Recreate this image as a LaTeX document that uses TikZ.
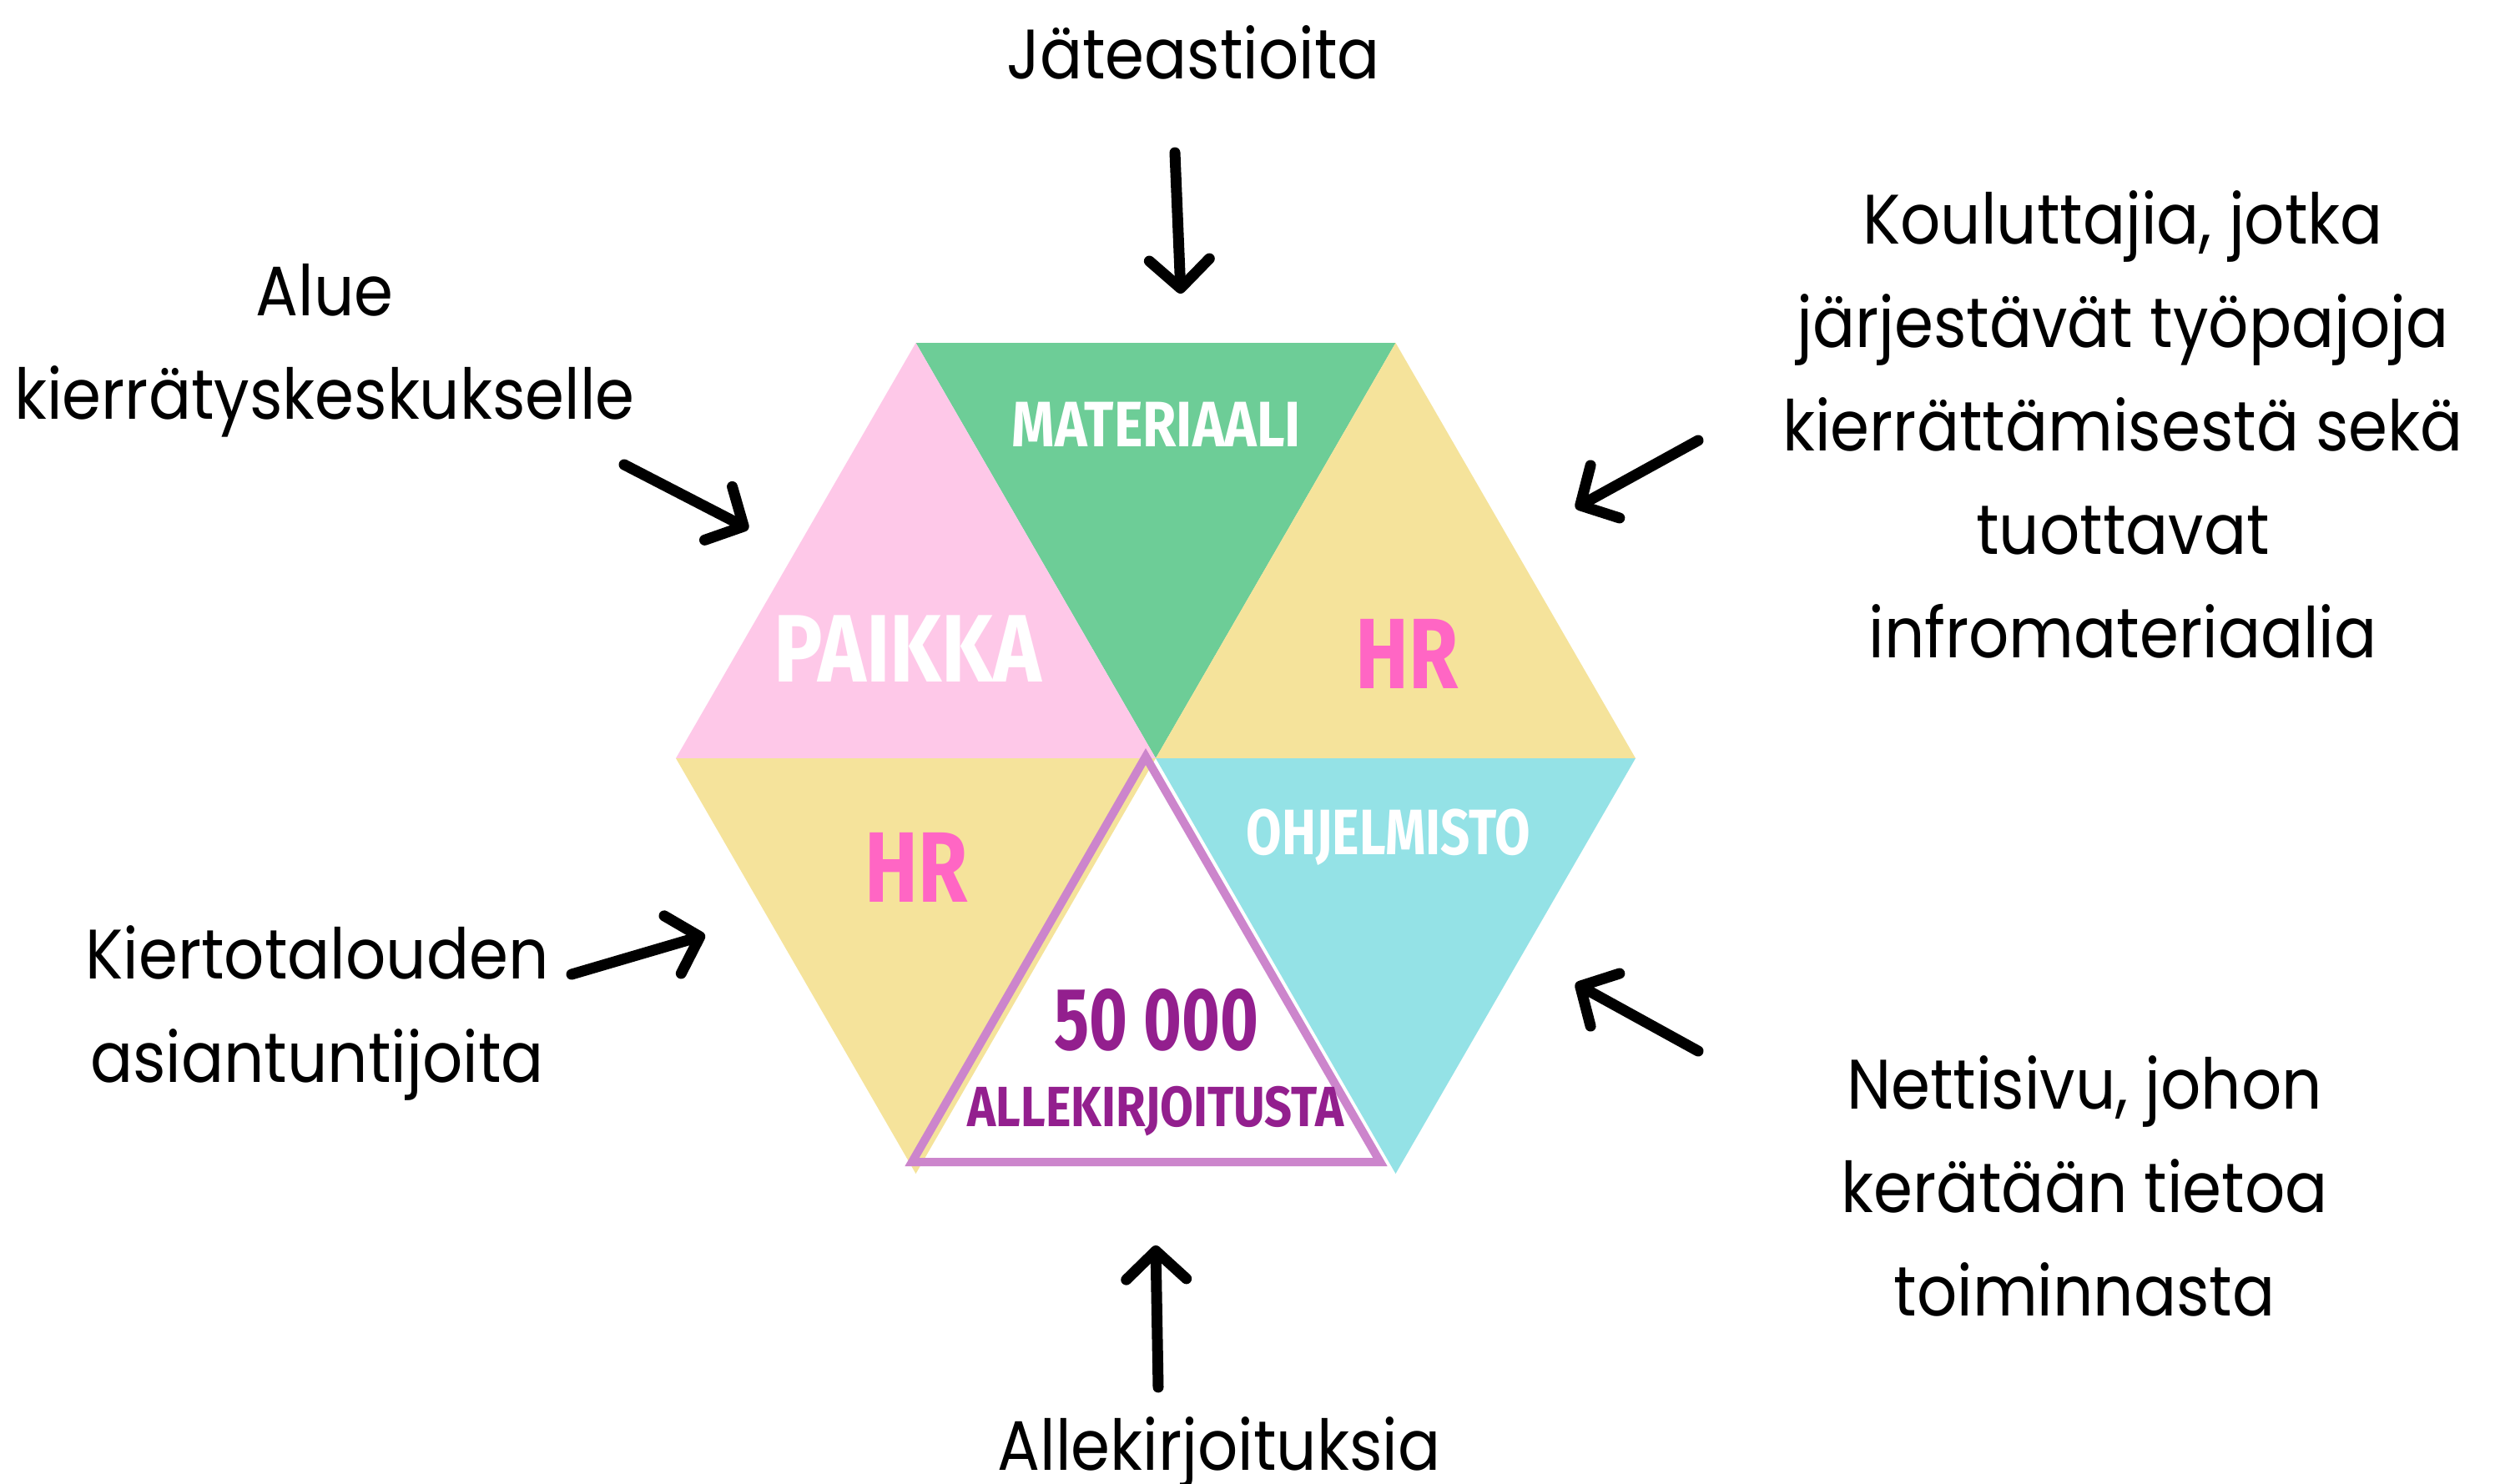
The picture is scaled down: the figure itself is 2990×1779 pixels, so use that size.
\documentclass[tikz,border=0pt]{standalone}
\usepackage{fontspec}
\setmainfont{Poppins}[FakeStretch=0.9]
\newfontfamily\dispA{Fira Sans}[FakeStretch=0.85]
\newfontfamily\dispB{Fira Sans}[FakeStretch=0.8]
\newfontfamily\dispC{Fira Sans}[FakeStretch=0.74]
\usetikzlibrary{arrows.meta}
\definecolor{cgreen}{HTML}{6DCD97}
\definecolor{cpink}{HTML}{FEC8E8}
\definecolor{cyellow}{HTML}{F5E39B}
\definecolor{ccyan}{HTML}{94E2E6}
\definecolor{hrpink}{HTML}{FF66C4}
\definecolor{ptext}{HTML}{931F8E}
\definecolor{pline}{HTML}{CC85CC}
\begin{document}
\begin{tikzpicture}[x=1pt,y=-1pt,
  lbl/.style={font=\fontsize{84}{124}\selectfont, align=center, inner sep=0pt, anchor=base},
  tri/.style={inner sep=0pt},
  arr/.style={line width=13pt, line cap=round, line join=round,
    -{Straight Barb[length=34pt,width=72pt,round]}}]
\useasboundingbox (0,0) rectangle (2990,1779);
\fill[white] (0,0) rectangle (2990,1779);
% hexagon vertices
\coordinate (C)  at (1385,909);
\coordinate (TL) at (1097.5,411);
\coordinate (TR) at (1672.5,411);
\coordinate (L)  at (810,909);
\coordinate (R)  at (1960,909);
\coordinate (BL) at (1097.5,1407);
\coordinate (BR) at (1672.5,1407);
% triangles
\fill[cgreen]  (TL) -- (TR) -- (C) -- cycle;
\fill[cpink]   (TL) -- (L) -- (C) -- cycle;
\fill[cyellow] (TR) -- (C) -- (R) -- cycle;
\fill[cyellow] (L) -- (C) -- (BL) -- cycle;
\fill[ccyan]   (C) -- (R) -- (BR) -- cycle;
% purple outlined triangle
\coordinate (PA) at (1373,907);
\coordinate (PL) at (1093,1393);
\coordinate (PR) at (1654,1393);
\draw[pline, line width=10pt, line join=miter] (PA) -- (PL) -- (PR) -- cycle;
% triangle labels
\node[tri, text=white, font=\dispA\bfseries\fontsize{77}{80}\selectfont] (mat) at (1386,509) {MATERIAALI};
\node[tri, text=white, font=\dispA\bfseries\fontsize{115}{120}\selectfont] (pai) at (1088,778) {PAIKKA};
\node[tri, text=hrpink, font=\dispB\bfseries\fontsize{120}{124}\selectfont] (hr1) at (1686,784) {HR};
\node[tri, text=hrpink, font=\dispB\bfseries\fontsize{120}{124}\selectfont] (hr2) at (1098,1040) {HR};
\node[tri, text=white, font=\dispB\bfseries\fontsize{77}{80}\selectfont] (ohj) at (1664,1004) {OHJELMISTO};
\node[tri, text=ptext, font=\dispC\bfseries\fontsize{106}{110}\selectfont] (num) at (1386,1223) {50 000};
\node[tri, text=ptext, font=\dispA\bfseries\fontsize{68}{74}\selectfont] (all) at (1385,1332) {ALLEKIRJOITUSTA};
% outer labels (anchor base = baseline of the last line)
\node[lbl] (t1) at (1430,95) {Jäteastioita};
\node[lbl] (t2) at (389,502) {Alue\\kierrätyskeskukselle};
\node[lbl] (t3) at (380,1297) {Kiertotalouden\\asiantuntijoita};
\node[lbl] (t4) at (2544,788) {Kouluttajia, jotka\\järjestävät työpajoja\\kierrättämisestä sekä\\tuottavat\\infromateriaalia};
\node[lbl] (t5) at (2498,1577) {Nettisivu, johon\\kerätään tietoa\\toiminnasta};
\node[lbl] (t6) at (1461,1762) {Allekirjoituksia};
% arrows
\coordinate (a1s) at (1408,183);  \coordinate (a1e) at (1415,352);
\coordinate (a2s) at (748,557);   \coordinate (a2e) at (897,634);
\coordinate (a3s) at (685,1168);  \coordinate (a3e) at (845,1121);
\coordinate (a4s) at (2035,528);  \coordinate (a4e) at (1888,609);
\coordinate (a5s) at (2035,1260); \coordinate (a5e) at (1888,1179);
\coordinate (a6s) at (1388,1663); \coordinate (a6e) at (1385,1493);
\draw[arr] (a1s) -- (a1e);
\draw[arr] (a2s) -- (a2e);
\draw[arr] (a3s) -- (a3e);
\draw[arr] (a4s) -- (a4e);
\draw[arr] (a5s) -- (a5e);
\draw[arr] (a6s) -- (a6e);
\end{tikzpicture}
\end{document}
